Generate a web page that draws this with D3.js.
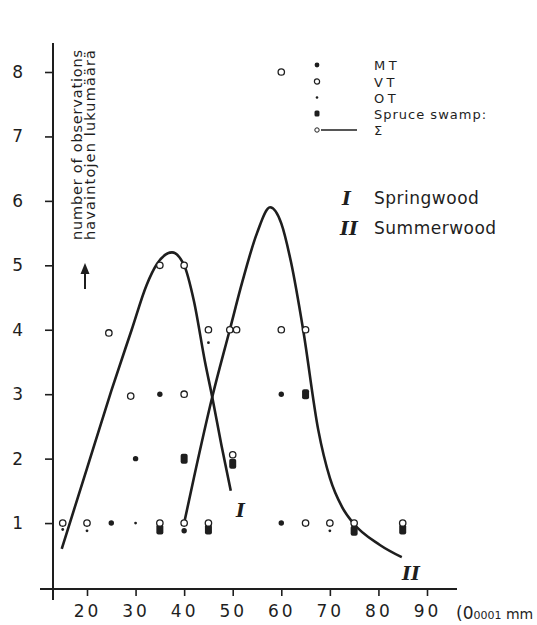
<!DOCTYPE html>
<html>
<head>
<meta charset="utf-8">
<script src="https://cdn.jsdelivr.net/npm/d3@7"></script>
<style>
  body { margin: 0; background: #fff; }
  svg text { font-family: "DejaVu Sans", sans-serif; fill: #1e1e1e; }
</style>
</head>
<body>
<script>
// observations: x = ring width class (0.0001 mm), y = number of observations
const mtX = [25, 40, 60, 30, 35, 60];
const mtY = [1.0, 0.88, 1.0, 2.0, 3.0, 3.0];

const vtX = [15, 20, 35, 40, 45, 65, 70, 75, 85, 50, 29, 40, 24.5, 45, 49.4, 50.8, 60, 65, 35, 40, 60];
const vtY = [1.0, 1.0, 1.0, 1.0, 1.0, 1.0, 1.0, 1.0, 1.0, 2.06, 2.97, 3.0, 3.95, 4.0, 4.0, 4.0, 4.0, 4.0, 5.0, 5.0, 8.0];

const otX = [15, 20, 30, 70, 45];
const otY = [0.9, 0.88, 1.0, 0.88, 3.8];

const spruceX = [35, 45, 75, 85, 40, 50, 65];
const spruceY = [0.9, 0.9, 0.88, 0.9, 2.0, 1.92, 3.0];

// sum curves
const springX = [14.8, 20, 25, 29.2, 32.3, 34.4, 37.5, 40, 42, 44.3, 45.8, 47.7, 49.6];
const springY = [0.6, 1.85, 3.05, 4.0, 4.7, 5.02, 5.2, 5.0, 4.45, 3.5, 2.95, 2.2, 1.5];
const summerX = [40, 42, 45.8, 49.4, 52, 55, 57.7, 60, 62, 64.5, 67.6, 70, 72.5, 74.8, 80.3, 84.8];
const summerY = [1.0, 1.7, 2.96, 4.0, 4.75, 5.5, 5.9, 5.65, 5.05, 4.0, 2.45, 1.7, 1.25, 1.0, 0.66, 0.47];

const xTicks = [20, 30, 40, 50, 60, 70, 80, 90];
const yTicks = [1, 2, 3, 4, 5, 6, 7, 8];
const legendLabels = ["MT", "VT", "OT", "Spruce swamp:", "\u03A3"];

const width = 537, height = 625;
const ink = "#1e1e1e";

const svg = d3.select("body").append("svg")
    .attr("width", width)
    .attr("height", height);

const x = d3.scaleLinear().domain([13, 90]).range([53, 427]);
const y = d3.scaleLinear().domain([0, 8]).range([587.5, 72]);

// axes
const xaxis = d3.axisBottom(x).tickValues(xTicks).tickSize(7).tickPadding(9);
const yaxis = d3.axisLeft(y).tickValues(yTicks).tickSize(8).tickPadding(22);

const gx = svg.append("g").attr("transform", "translate(0,589)").call(xaxis);
gx.select(".domain").remove();
gx.selectAll("line").attr("stroke", ink).attr("stroke-width", 1.6);
gx.selectAll("text").attr("font-size", 17).attr("letter-spacing", 3).attr("fill", ink);
gx.append("line").attr("x1", 40).attr("x2", 457).attr("y1", 0).attr("y2", 0)
    .attr("stroke", ink).attr("stroke-width", 2);

const gy = svg.append("g").attr("transform", "translate(53,0)").call(yaxis);
gy.select(".domain").remove();
gy.selectAll("line").attr("stroke", ink).attr("stroke-width", 1.6);
gy.selectAll("text").attr("font-size", 17).attr("fill", ink);
gy.append("line").attr("x1", 0).attr("x2", 0).attr("y1", 43).attr("y2", 600)
    .attr("stroke", ink).attr("stroke-width", 2);

// unit
const unit = svg.append("text").attr("x", 456).attr("y", 619).attr("font-size", 17);
unit.append("tspan").text("(0");
unit.append("tspan").attr("font-size", 11).text("0001");
unit.append("tspan").attr("font-size", 14).text(" mm");

// y title
const yt = svg.append("g").attr("transform", "translate(0,240) rotate(-90)");
yt.append("text").attr("x", 0).attr("y", 82).attr("font-size", 14.5).attr("textLength", 190).text("number of observations");
yt.append("text").attr("x", 0).attr("y", 95).attr("font-size", 14.5).attr("textLength", 190).text("havaintojen lukumäärä");
svg.append("line").attr("x1", 85).attr("x2", 85).attr("y1", 289).attr("y2", 272)
    .attr("stroke", ink).attr("stroke-width", 2);
svg.append("path").attr("d", "M80.5,274 L85,263 L89.5,274 Z").attr("fill", ink);

// curves
const line = d3.line().x(d => x(d[0])).y(d => y(d[1])).curve(d3.curveMonotoneX);
svg.append("path").datum(d3.zip(springX, springY)).attr("d", line)
    .attr("fill", "none").attr("stroke", ink).attr("stroke-width", 2.6);
svg.append("path").datum(d3.zip(summerX, summerY)).attr("d", line)
    .attr("fill", "none").attr("stroke", ink).attr("stroke-width", 2.6);

// markers
svg.append("g").selectAll("rect").data(d3.zip(spruceX, spruceY)).join("rect")
    .attr("x", d => x(d[0]) - 3.5).attr("y", d => y(d[1]) - 5)
    .attr("width", 7).attr("height", 10).attr("rx", 2)
    .attr("fill", ink);
svg.append("g").selectAll("circle").data(d3.zip(mtX, mtY)).join("circle")
    .attr("cx", d => x(d[0])).attr("cy", d => y(d[1])).attr("r", 2.7)
    .attr("fill", ink);
svg.append("g").selectAll("circle").data(d3.zip(otX, otY)).join("circle")
    .attr("cx", d => x(d[0])).attr("cy", d => y(d[1])).attr("r", 1.4)
    .attr("fill", ink);
svg.append("g").selectAll("circle").data(d3.zip(vtX, vtY)).join("circle")
    .attr("cx", d => x(d[0])).attr("cy", d => y(d[1])).attr("r", 3.2)
    .attr("fill", "#fff").attr("stroke", ink).attr("stroke-width", 1.3);

// legend
const lg = svg.append("g").attr("transform", "translate(317,0)");
const rows = [65, 81.5, 97.5, 113.5, 130];
lg.append("circle").attr("cx", 0).attr("cy", rows[0]).attr("r", 2.4).attr("fill", ink);
lg.append("circle").attr("cx", 0).attr("cy", rows[1]).attr("r", 2.6)
    .attr("fill", "#fff").attr("stroke", ink).attr("stroke-width", 1.2);
lg.append("circle").attr("cx", 0).attr("cy", rows[2]).attr("r", 1.3).attr("fill", ink);
lg.append("rect").attr("x", -2.5).attr("y", rows[3] - 3).attr("width", 5).attr("height", 6)
    .attr("rx", 1.5).attr("fill", ink);
lg.append("circle").attr("cx", 0).attr("cy", rows[4]).attr("r", 2.2)
    .attr("fill", "#fff").attr("stroke", ink).attr("stroke-width", 1);
lg.append("line").attr("x1", 4).attr("x2", 40).attr("y1", rows[4]).attr("y2", rows[4])
    .attr("stroke", ink).attr("stroke-width", 1.4);
lg.selectAll("text.lab").data(legendLabels).join("text").attr("class", "lab")
    .attr("x", 57).attr("y", (d, i) => rows[i] + 5)
    .attr("font-size", 13).attr("letter-spacing", (d, i) => i < 3 ? 3.5 : 1)
    .text(d => d);

// curve labels
const roman = { "font-family": "DejaVu Serif, serif", "font-weight": "bold", "font-style": "italic" };
function romanText(tx, ty, s, fs) {
  const t = svg.append("text").attr("x", tx).attr("y", ty).attr("font-size", fs).text(s);
  Object.entries(roman).forEach(([k, v]) => t.style(k, v));
  return t;
}
romanText(342, 205, "I", 19);
romanText(340, 235, "II", 19);
svg.append("text").attr("x", 374).attr("y", 204).attr("font-size", 17).attr("letter-spacing", 0.5).text("Springwood");
svg.append("text").attr("x", 374).attr("y", 234).attr("font-size", 17).attr("letter-spacing", 0.5).text("Summerwood");
romanText(236, 517, "I", 19);
romanText(402, 580, "II", 19);
</script>
</body>
</html>
